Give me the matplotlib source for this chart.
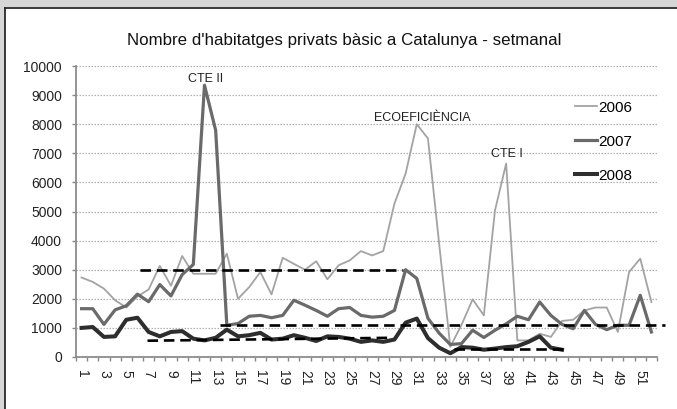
import matplotlib
matplotlib.use("Agg")
import matplotlib.pyplot as plt
from matplotlib.lines import Line2D
from matplotlib.patches import Rectangle

# ---------------- data ----------------
weeks = list(range(1, 53))
tick_labels = [str(w) for w in weeks if w % 2 == 1]

v2006 = [2730, 2580, 2350, 1950, 1700, 2080, 2320, 3130, 2450, 3470,
         2860, 2860, 2860, 3550, 2000, 2400, 2920, 2150, 3410, 3200,
         3000, 3290, 2670, 3150, 3320, 3640, 3490, 3640, 5270, 6300,
         8000, 7510, 3900, 350, 1100, 1980, 1430, 5040, 6650, 570,
         570, 800, 690, 1240, 1280, 1600, 1700, 1700, 860, 2920,
         3380, 1890]
v2007 = [1660, 1660, 1120, 1620, 1760, 2160, 1900, 2490, 2100, 2830,
         3180, 9340, 7790, 1090, 1150, 1400, 1430, 1350, 1430, 1950,
         1780, 1600, 1400, 1660, 1700, 1430, 1370, 1400, 1600, 3000,
         2700, 1330, 820, 430, 460, 920, 670, 920, 1140, 1400,
         1280, 1890, 1430, 1120, 970, 1600, 1120, 940, 1090, 1090,
         2120, 860]
v2008 = [1000, 1030, 690, 710, 1280, 1350, 860, 710, 860, 890,
         630, 570, 660, 940, 710, 750, 830, 600, 630, 750,
         660, 550, 710, 690, 630, 520, 570, 520, 600, 1180,
         1320, 650, 320, 130, 340, 320, 250, 290, 340, 370,
         520, 710, 320, 250]

# dashed reference segments (week start, week end, level start, level end)
ref_x0 = [6.2, 13.4, 6.9, 34.3]
ref_x1 = [29.8, 53.2, 28.8, 44.4]
ref_y0 = [3000, 1110, 560, 290]
ref_y1 = [3000, 1110, 660, 290]

annotations = ["CTE II", "ECOEFICIÈNCIA", "CTE I"]
ann_week = [12.1, 31.5, 39.1]
ann_level = [9440, 8110, 6860]

title = "Nombre d'habitatges privats bàsic a Catalunya - setmanal"

# ---------------- figure ----------------
plt.rcParams['font.family'] = ['Liberation Sans', 'DejaVu Sans']
W, H = 677, 409
fig = plt.figure(figsize=(W / 100, H / 100), dpi=100)
fig.patch.set_facecolor('white')

# screenshot frame: gray strips top/left and dark border
fig.add_artist(Rectangle((0, 1 - 6.5 / H), 1, 6.5 / H, transform=fig.transFigure,
                         facecolor='#d6d6d6', edgecolor='none', zorder=0))
fig.add_artist(Rectangle((0, 0), 4.5 / W, 1, transform=fig.transFigure,
                         facecolor='#d6d6d6', edgecolor='none', zorder=0))
fig.add_artist(Line2D([5 / W, 1], [1 - 7.5 / H, 1 - 7.5 / H], transform=fig.transFigure,
                      color='#2a2a2a', lw=1.3))
fig.add_artist(Line2D([5.5 / W, 5.5 / W], [0, 1 - 7.5 / H], transform=fig.transFigure,
                      color='#2a2a2a', lw=1.3))

ax = fig.add_axes([76 / W, 1 - 357 / H, 581 / W, 291 / H])
ax.set_facecolor('none')

ax.plot(weeks, v2006, color='#a3a3a3', lw=1.3, label='2006', zorder=3)
ax.plot(weeks, v2007, color='#6a6a6a', lw=2.3, label='2007', zorder=4)
ax.plot(weeks[:len(v2008)], v2008, color='#2e2e2e', lw=2.9, label='2008', zorder=5)

for x0, x1, y0, y1 in zip(ref_x0, ref_x1, ref_y0, ref_y1):
    ax.plot([x0, x1], [y0, y1], color='black', lw=1.9, ls=(0, (4.0, 2.2)),
            zorder=6, clip_on=False)

for txt, wx, lv in zip(annotations, ann_week, ann_level):
    ax.text(wx, lv, txt, ha='center', va='baseline', fontsize=9, color='#222222')

ax.set_xlim(0.5, 52.5)
ax.set_ylim(0, 10000)
ax.set_yticks(range(0, 10001, 1000))
ax.set_yticklabels([str(v) for v in range(0, 10001, 1000)])
ax.yaxis.grid(True, color='#b0b0b0', ls=(0, (1.2, 1.2)), lw=0.9)
ax.set_axisbelow(True)

odd_weeks = [w for w in weeks if w % 2 == 1]
ax.set_xticks(odd_weeks)
ax.set_xticklabels(tick_labels, rotation=270)
ax.set_xticks([w + 0.5 for w in range(0, 53)], minor=True)
ax.tick_params(axis='x', which='major', length=0, pad=9, labelsize=10, colors='#222222')
ax.tick_params(axis='x', which='minor', length=3, width=1, color='#888888', direction='out')
ax.tick_params(axis='y', which='major', length=3, width=1, color='#888888', pad=7,
               labelsize=10, labelcolor='#222222')

for s in ['top', 'right']:
    ax.spines[s].set_visible(False)
for s in ['left', 'bottom']:
    ax.spines[s].set_color('#8c8c8c')
    ax.spines[s].set_linewidth(1.3)

leg = ax.legend(loc='center left', bbox_to_anchor=(575 / W, 1 - 141.7 / H),
                bbox_transform=fig.transFigure, frameon=False, fontsize=11,
                handlelength=1.45, handletextpad=0.08, labelspacing=1.3,
                borderpad=0, borderaxespad=0)

fig.text(344 / W, 1 - 45 / H, title, ha='center', va='baseline', fontsize=12.2,
         color='#111111')

fig.savefig('out.png', dpi=100)
